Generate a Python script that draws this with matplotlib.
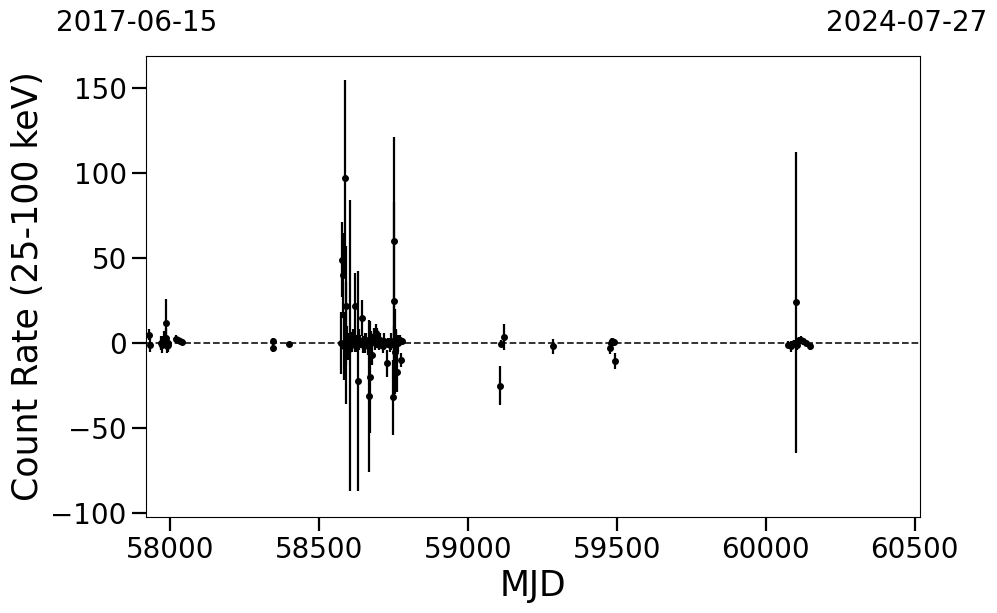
import matplotlib
matplotlib.use("Agg")
import matplotlib.pyplot as plt
import numpy as np

# Observations: MJD, count rate (25-100 keV), 1-sigma error
mjd = [
    57932, 57933,
    57970, 57975, 57980, 57983, 57986, 57987, 57990, 57993, 57995,
    58020, 58027, 58035, 58040,
    58347, 58348, 58401,
    58576, 58579, 58582, 58585, 58589, 58590, 58592, 58594, 58597, 58600,
    58605, 58610, 58615, 58620, 58622, 58626, 58631, 58636, 58640, 58645,
    58650, 58655, 58660, 58665, 58670, 58672, 58676, 58680, 58684, 58689,
    58693, 58697, 58701, 58705, 58710, 58715, 58720, 58728, 58733, 58738,
    58742, 58748, 58751, 58753, 58754, 58756, 58758, 58760, 58762, 58765,
    58768, 58771, 58775, 58778,
    59108, 59110, 59122,
    59286,
    59477, 59480, 59485, 59490, 59494,
    60075, 60085, 60093, 60100, 60103, 60110, 60118, 60125, 60135, 60147,
]
rate = [
    5, -1,
    0, -1, 2, 1, 3, 12, -2, 0, -1,
    2.5, 1.5, 1, 0.5,
    1, -3, -0.5,
    0, 49, 40, -2, 97, 22, 0, 2, -4, 1,
    -1.5, 0.5, 3, -1, 21.5, 0, -22.6, 2, 1, 14.7,
    -1, 0, 2, -2, -31, -20, 1, -7, 4, 0,
    6, 3, -1, 2, 0, -2, 1, -12, 0, -1,
    1, -32, 25, 0, 60, -5, 2, 3, -17, 0,
    1, 2, -10, 1,
    -25, -0.5, 3.5,
    -2,
    -3, 0, 1, 0.5, -10.5,
    -1, -2, 0, 24, -1, 1.5, 2, 1, 0, -2,
]
err = [
    3.5, 4,
    4, 5, 5, 3, 6, 14, 4, 3, 4,
    2, 2, 1.5, 1.5,
    2, 2, 1,
    18, 22, 25, 20, 58, 35, 36, 8, 6, 5,
    85.5, 6, 5, 4, 20, 5, 64.7, 6, 4, 10.8,
    5, 6, 4, 5, 44.6, 33, 6, 6, 5, 4,
    5, 6, 3, 4, 3, 4, 5, 8, 3, 4,
    5, 22, 58, 10, 61.5, 25, 6, 4, 12, 5,
    3, 3, 4, 2,
    11.5, 2, 7.5,
    4.5,
    3.5, 2, 2, 2, 4.5,
    2, 3, 2, 88.5, 3, 2, 2, 2, 2, 2,
]

x_limits = [57919, 60518]
y_limits = [-102.2, 169]
x_ticks = [58000, 58500, 59000, 59500, 60000, 60500]
y_ticks = [-100, -50, 0, 50, 100, 150]
date_labels = ["2017-06-15", "2024-07-27"]

fig = plt.figure(figsize=(9.97, 6.13), dpi=100)
ax = fig.add_axes([0.146, 0.157, 0.777, 0.752])

ax.axhline(0, color="#222222", linestyle="--", linewidth=1.3, zorder=1)
ax.errorbar(mjd, rate, yerr=err, fmt="o", color="black", markersize=4,
            elinewidth=1.6, capsize=0, zorder=3)

ax.set_xlim(x_limits)
ax.set_ylim(y_limits)
ax.set_xticks(x_ticks)
ax.set_yticks(y_ticks)
ax.tick_params(axis="both", which="major", labelsize=20, length=10, width=1.6)
ax.set_xlabel("MJD", fontsize=25)
ax.set_ylabel("Count Rate (25-100 keV)", fontsize=25)

fig.text(56 / 997, 1 - 23 / 613, date_labels[0], fontsize=20, ha="left", va="center")
fig.text(987 / 997, 1 - 23 / 613, date_labels[1], fontsize=20, ha="right", va="center")

fig.savefig("out.png", dpi=100)
